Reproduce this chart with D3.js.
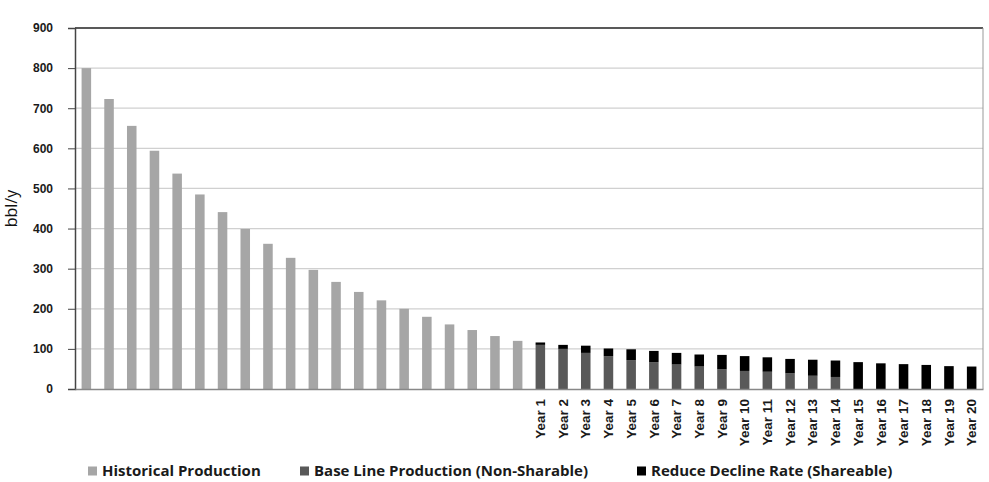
<!DOCTYPE html>
<html>
<head>
<meta charset="utf-8">
<script src="https://cdn.jsdelivr.net/npm/d3@7"></script>
<style>
  body { margin: 0; background: #fff; }
  svg { font-family: "Open Sans", "Liberation Sans", sans-serif; }
</style>
</head>
<body>
<svg id="chart"></svg>
<script>
// data
const historical = [800, 723, 656, 594, 537, 485, 441, 399, 362, 327,
                    297, 267, 242, 221, 200, 180, 161, 147, 132, 120];
const years = d3.range(1, 21).map(i => "Year " + i);
const totalYear = [116, 110, 108, 101, 99, 95, 90, 86, 85, 82,
                   79, 75, 73, 71, 67, 64, 62, 60, 57, 56];
const baseLine = [110, 100, 90, 82, 72, 67, 61, 56, 49, 45,
                  43, 39, 33, 30, 0, 0, 0, 0, 0, 0];
const yTicks = [0, 100, 200, 300, 400, 500, 600, 700, 800, 900];
const seriesNames = ["Historical Production", "Base Line Production (Non-Sharable)", "Reduce Decline Rate (Shareable)"];
const colors = ["#a6a6a6", "#595959", "#000000"];

const width = 989;
const height = 482;
const margin = {top: 28, right: 6, bottom: 93, left: 75};

const histKeys = historical.map((d, i) => "h" + i);
const categories = histKeys.concat(years);

const rows = categories.map((k, i) => {
    if (i < historical.length) return {key: k, hist: historical[i], base: 0, reduce: 0};
    const j = i - historical.length;
    return {key: k, hist: 0, base: baseLine[j], reduce: totalYear[j] - baseLine[j]};
});

const svg = d3.select("#chart")
    .attr("width", width)
    .attr("height", height);

const x = d3.scaleBand()
    .domain(categories)
    .range([margin.left, width - margin.right])
    .paddingInner(0.58)
    .paddingOuter(0.29);

const y = d3.scaleLinear()
    .domain([0, 900])
    .range([height - margin.bottom, margin.top]);

// gridlines
svg.append("g")
    .selectAll("line")
    .data(yTicks.filter(t => t > 0 && t < 900))
    .enter()
    .append("line")
    .attr("x1", margin.left)
    .attr("x2", width - margin.right)
    .attr("y1", d => y(d))
    .attr("y2", d => y(d))
    .attr("stroke", "#d0d0d0")
    .attr("stroke-width", 1.2);

// plot border
svg.append("line")
    .attr("x1", margin.left).attr("x2", width - margin.right)
    .attr("y1", y(900)).attr("y2", y(900))
    .attr("stroke", "#222").attr("stroke-width", 1.5);
svg.append("line")
    .attr("x1", width - margin.right).attr("x2", width - margin.right)
    .attr("y1", y(900)).attr("y2", y(0))
    .attr("stroke", "#999").attr("stroke-width", 1);

// stacked bars
const stack = d3.stack().keys(["hist", "base", "reduce"]);
const stacked = stack(rows);

svg.append("g")
    .selectAll("g")
    .data(stacked)
    .enter()
    .append("g")
    .attr("fill", (d, i) => colors[i])
    .selectAll("rect")
    .data(d => d)
    .enter()
    .append("rect")
    .attr("x", d => x(d.data.key))
    .attr("width", x.bandwidth())
    .attr("y", d => y(d[1]))
    .attr("height", d => y(d[0]) - y(d[1]));

// y axis
const yAxis = d3.axisLeft(y)
    .tickValues(yTicks)
    .tickSize(7)
    .tickPadding(15);

const gy = svg.append("g")
    .attr("transform", "translate(" + margin.left + ",0)")
    .call(yAxis);
gy.select(".domain").attr("stroke", "#444").attr("stroke-width", 1.5);
gy.selectAll(".tick line").attr("stroke", "#444");
gy.selectAll("text")
    .attr("font-size", 12)
    .attr("font-weight", "bold")
    .attr("fill", "#1a1a1a");

// x axis
const xAxis = d3.axisBottom(x)
    .tickSize(0)
    .tickFormat(d => d.startsWith("h") ? "" : d);

const gx = svg.append("g")
    .attr("transform", "translate(0," + y(0) + ")")
    .call(xAxis);
gx.select(".domain").attr("stroke", "#888").attr("stroke-width", 1.5);
gx.selectAll("text")
    .attr("font-size", 13.5)
    .attr("font-weight", "bold")
    .attr("fill", "#1a1a1a")
    .attr("text-anchor", "end")
    .attr("transform", "rotate(-90)")
    .attr("x", -10)
    .attr("y", 0)
    .attr("dy", "0.35em");

// y title
svg.append("text")
    .attr("transform", "translate(17," + ((y(0) + y(900)) / 2) + ") rotate(-90)")
    .attr("text-anchor", "middle")
    .attr("font-size", 16)
    .attr("fill", "#111")
    .text("bbl/y");

// legend
const legendX = [88, 300, 637];
const legend = svg.append("g")
    .selectAll("g")
    .data(seriesNames)
    .enter()
    .append("g")
    .attr("transform", (d, i) => "translate(" + legendX[i] + ",471)");
legend.append("rect")
    .attr("x", 0).attr("y", -4.5)
    .attr("width", 9).attr("height", 9)
    .attr("fill", (d, i) => colors[i]);
legend.append("text")
    .attr("x", 14)
    .attr("dy", "0.35em")
    .attr("font-size", 15)
    .attr("font-weight", "bold")
    .attr("fill", "#1a1a1a")
    .text(d => d);
</script>
</body>
</html>
